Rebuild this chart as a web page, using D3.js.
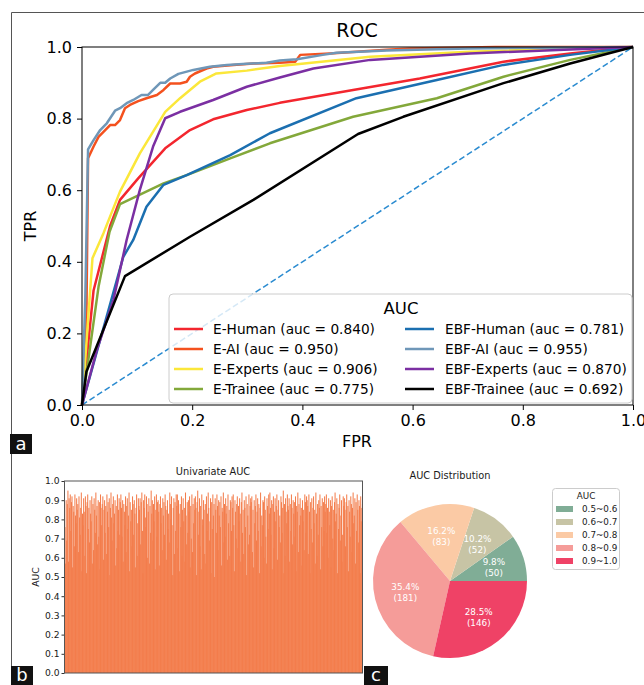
<!DOCTYPE html>
<html>
<head>
<meta charset="utf-8">
<script src="https://cdn.jsdelivr.net/npm/d3@7"></script>
<style>
  body { margin: 0; background: #fff; }
  svg { display: block; font-family: 'DejaVu Sans', sans-serif; }
</style>
</head>
<body>
<svg id="fig" width="644" height="685"></svg>
<script>
// ROC curves, [fpr, tpr]
const eHuman = [[0,0],[0.021,0.32],[0.051,0.50],[0.069,0.573],[0.102,0.633],[0.151,0.717],[0.196,0.768],[0.238,0.798],[0.299,0.824],[0.359,0.844],[0.492,0.880],[0.613,0.912],[0.765,0.959],[0.886,0.982],[1,1]]
const eAI = [[0,0],[0.008,0.25],[0.011,0.689],[0.021,0.722],[0.030,0.749],[0.039,0.763],[0.051,0.782],[0.060,0.782],[0.069,0.796],[0.078,0.829],[0.087,0.838],[0.102,0.849],[0.117,0.857],[0.136,0.866],[0.148,0.880],[0.160,0.898],[0.178,0.898],[0.190,0.903],[0.196,0.917],[0.205,0.926],[0.226,0.940],[0.238,0.945],[0.275,0.950],[0.311,0.954],[0.359,0.956],[0.387,0.959],[0.396,0.978],[0.45,0.982],[0.553,0.992],[0.595,0.996],[0.75,1],[1,1]]
const eExperts = [[0,0],[0.019,0.41],[0.039,0.48],[0.057,0.55],[0.069,0.596],[0.105,0.703],[0.151,0.819],[0.178,0.857],[0.214,0.903],[0.244,0.926],[0.299,0.934],[0.359,0.947],[0.523,0.973],[0.704,0.987],[1,1]]
const eTrainee = [[0,0],[0.03,0.33],[0.05,0.484],[0.069,0.561],[0.148,0.619],[0.190,0.642],[0.269,0.689],[0.341,0.731],[0.492,0.805],[0.644,0.857],[0.765,0.917],[0.886,0.964],[1,1]]
const ebfHuman = [[0,0],[0.075,0.414],[0.093,0.461],[0.117,0.554],[0.148,0.615],[0.190,0.642],[0.269,0.698],[0.341,0.759],[0.498,0.857],[0.644,0.908],[0.765,0.950],[0.886,0.978],[1,1]]
const ebfAI = [[0,0],[0.006,0.3],[0.011,0.714],[0.021,0.740],[0.033,0.768],[0.045,0.787],[0.060,0.822],[0.069,0.829],[0.081,0.843],[0.093,0.852],[0.108,0.866],[0.120,0.866],[0.129,0.880],[0.142,0.900],[0.151,0.900],[0.160,0.912],[0.175,0.925],[0.202,0.936],[0.232,0.945],[0.263,0.950],[0.299,0.953],[0.335,0.956],[0.359,0.962],[0.39,0.966],[0.437,0.978],[0.462,0.984],[0.553,0.99],[0.7,0.996],[1,1]]
const ebfExperts = [[0,0],[0.027,0.154],[0.057,0.293],[0.081,0.461],[0.105,0.601],[0.129,0.722],[0.151,0.801],[0.178,0.819],[0.238,0.852],[0.299,0.889],[0.359,0.915],[0.42,0.94],[0.523,0.964],[0.704,0.982],[1,1]]
const ebfTrainee = [[0,0],[0.008,0.093],[0.078,0.36],[0.196,0.470],[0.311,0.573],[0.501,0.757],[0.583,0.805],[0.765,0.899],[0.886,0.954],[1,1]]

const rocNames = ['E-Human', 'E-AI', 'E-Experts', 'E-Trainee', 'EBF-Human', 'EBF-AI', 'EBF-Experts', 'EBF-Trainee']
const rocAuc = ['0.840', '0.950', '0.906', '0.775', '0.781', '0.955', '0.870', '0.692']
const rocColors = ['#f3262e', '#f4511e', '#fbe73a', '#83a83a', '#1b6fb0', '#6f97b8', '#7b2fa2', '#000000']
const rocCurves = [eHuman, eAI, eExperts, eTrainee, ebfHuman, ebfAI, ebfExperts, ebfTrainee]
const rocTicks = [0, 0.2, 0.4, 0.6, 0.8, 1.0]

// univariate AUC, one bar per feature (512)
const univariateAuc = [
  0.76,0.57,0.90,0.69,0.88,0.95,0.58,0.91,0.86,0.93,0.74,0.89,0.92,0.55,0.87,0.84,0.66,0.93,0.82,0.78,0.91,0.85,0.88,0.63,0.92,0.81,0.72,0.86,0.94,0.53,0.83,0.77,
  0.91,0.84,0.61,0.92,0.87,0.52,0.89,0.93,0.75,0.86,0.68,0.90,0.83,0.79,0.92,0.57,0.88,0.64,0.91,0.85,0.73,0.94,0.82,0.87,0.67,0.90,0.71,0.89,0.54,0.93,0.86,0.77,
  0.88,0.92,0.59,0.85,0.90,0.73,0.87,0.62,0.93,0.84,0.89,0.76,0.91,0.51,0.86,0.94,0.81,0.69,0.88,0.92,0.78,0.83,0.90,0.56,0.87,0.65,0.93,0.74,0.85,0.91,0.72,0.89,
  0.93,0.86,0.71,0.90,0.58,0.88,0.84,0.77,0.92,0.63,0.87,0.91,0.75,0.82,0.94,0.53,0.89,0.79,0.85,0.66,0.92,0.88,0.72,0.90,0.83,0.55,0.86,0.93,0.61,0.78,0.91,0.87,
  0.85,0.91,0.67,0.89,0.94,0.74,0.52,0.90,0.86,0.93,0.81,0.76,0.92,0.88,0.60,0.84,0.91,0.57,0.87,0.73,0.95,0.83,0.90,0.69,0.88,0.79,0.92,0.54,0.85,0.93,0.71,0.89,
  0.90,0.84,0.56,0.88,0.92,0.78,0.86,0.64,0.91,0.82,0.89,0.72,0.93,0.87,0.59,0.85,0.90,0.75,0.83,0.68,0.94,0.88,0.80,0.92,0.77,0.51,0.86,0.91,0.62,0.89,0.74,0.93,
  0.87,0.93,0.65,0.90,0.83,0.53,0.88,0.76,0.92,0.61,0.85,0.91,0.79,0.86,0.58,0.94,0.82,0.67,0.89,0.73,0.90,0.84,0.92,0.55,0.87,0.70,0.93,0.63,0.88,0.78,0.91,0.85,
  0.92,0.86,0.51,0.89,0.95,0.72,0.84,0.91,0.66,0.87,0.54,0.93,0.80,0.77,0.90,0.85,0.62,0.88,0.57,0.92,0.74,0.83,0.94,0.86,0.69,0.79,0.91,0.52,0.89,0.75,0.93,0.82,
  0.88,0.50,0.91,0.85,0.73,0.93,0.87,0.64,0.90,0.82,0.89,0.76,0.92,0.56,0.86,0.84,0.94,0.68,0.88,0.71,0.91,0.83,0.87,0.59,0.93,0.78,0.85,0.61,0.90,0.89,0.74,0.92,
  0.86,0.93,0.77,0.53,0.90,0.84,0.70,0.88,0.92,0.65,0.87,0.79,0.91,0.83,0.58,0.89,0.94,0.73,0.85,0.62,0.90,0.86,0.76,0.92,0.51,0.88,0.82,0.67,0.93,0.72,0.87,0.91,
  0.89,0.92,0.63,0.85,0.55,0.90,0.78,0.87,0.93,0.69,0.84,0.91,0.74,0.88,0.52,0.86,0.94,0.66,0.82,0.77,0.90,0.89,0.60,0.92,0.85,0.71,0.57,0.91,0.87,0.75,0.93,0.83,
  0.94,0.86,0.72,0.90,0.54,0.88,0.92,0.65,0.84,0.91,0.79,0.87,0.93,0.59,0.85,0.90,0.76,0.82,0.68,0.92,0.89,0.73,0.86,0.95,0.52,0.88,0.61,0.91,0.84,0.78,0.93,0.87,
  0.85,0.91,0.58,0.88,0.74,0.93,0.86,0.67,0.90,0.83,0.89,0.71,0.92,0.53,0.87,0.84,0.94,0.63,0.88,0.77,0.91,0.82,0.86,0.56,0.90,0.79,0.85,0.64,0.93,0.89,0.73,0.92,
  0.90,0.87,0.62,0.93,0.84,0.52,0.89,0.75,0.91,0.68,0.86,0.92,0.78,0.85,0.57,0.94,0.83,0.61,0.88,0.72,0.90,0.86,0.93,0.54,0.87,0.76,0.91,0.66,0.89,0.74,0.92,0.84,
  0.88,0.93,0.73,0.86,0.60,0.91,0.84,0.77,0.90,0.55,0.87,0.92,0.70,0.85,0.64,0.89,0.94,0.79,0.83,0.91,0.52,0.88,0.75,0.86,0.93,0.69,0.82,0.90,0.58,0.72,0.92,0.87,
  0.91,0.85,0.66,0.89,0.93,0.76,0.87,0.53,0.90,0.84,0.71,0.92,0.88,0.63,0.86,0.94,0.78,0.82,0.91,0.57,0.89,0.74,0.93,0.85,0.68,0.90,0.87,0.52,0.92,0.79,0.86,0.88
]
const barTicks = [0, 0.1, 0.2, 0.3, 0.4, 0.5, 0.6, 0.7, 0.8, 0.9, 1.0]

// AUC distribution pie
const pieLabels = ['0.5~0.6', '0.6~0.7', '0.7~0.8', '0.8~0.9', '0.9~1.0']
const pieCounts = [50, 52, 83, 181, 146]
const piePct = ['9.8%', '10.2%', '16.2%', '35.4%', '28.5%']
const pieColors = ['#80ad96', '#c7c4a5', '#fbcaa5', '#f59c99', '#ef4266']

const svg = d3.select('#fig')

// panel frame
svg.append('path')
  .attr('d', 'M11.5,685V12.5H644')
  .attr('fill', 'none')
  .attr('stroke', '#555')
  .attr('stroke-width', 1)

// ---------- a: ROC ----------
const x = d3.scaleLinear().domain([0, 1]).range([82, 633])
const y = d3.scaleLinear().domain([0, 1]).range([405, 47])

const roc = svg.append('g')

roc.append('line')
  .attr('x1', x(0)).attr('y1', y(0))
  .attr('x2', x(1)).attr('y2', y(1))
  .attr('stroke', '#2a8bd0')
  .attr('stroke-width', 1.5)
  .attr('stroke-dasharray', '6,3')

const line = d3.line().x((d) => x(d[0])).y((d) => y(d[1]))

roc.selectAll('path.roc')
  .data(rocCurves)
  .enter()
  .append('path')
  .attr('class', 'roc')
  .attr('d', line)
  .attr('fill', 'none')
  .attr('stroke', (d, i) => rocColors[i])
  .attr('stroke-width', 2.5)
  .attr('stroke-linejoin', 'round')

roc.append('g')
  .attr('transform', `translate(0,${y(0)})`)
  .call(d3.axisBottom(x).tickValues(rocTicks).tickFormat(d3.format('.1f')).tickSize(5).tickPadding(5))
roc.append('g')
  .attr('transform', `translate(${x(0)},0)`)
  .call(d3.axisLeft(y).tickValues(rocTicks).tickFormat(d3.format('.1f')).tickSize(5).tickPadding(5))
roc.selectAll('.tick text').attr('font-size', 16).attr('fill', '#000').attr('font-family', 'DejaVu Sans')
roc.selectAll('.domain').remove()

roc.append('rect')
  .attr('x', x(0)).attr('y', y(1))
  .attr('width', x(1) - x(0)).attr('height', y(0) - y(1))
  .attr('fill', 'none').attr('stroke', '#000').attr('stroke-width', 1)

roc.append('text').attr('x', 357).attr('y', 37).attr('text-anchor', 'middle')
  .attr('font-size', 19).text('ROC')
roc.append('text').attr('x', 357).attr('y', 447).attr('text-anchor', 'middle')
  .attr('font-size', 16).text('FPR')
roc.append('text').attr('transform', 'translate(36,226) rotate(-90)').attr('text-anchor', 'middle')
  .attr('font-size', 16).text('TPR')

// legend
const leg = roc.append('g')
leg.append('rect')
  .attr('x', 169).attr('y', 294).attr('width', 463).attr('height', 109)
  .attr('rx', 4)
  .attr('fill', '#fff').attr('fill-opacity', 0.8)
  .attr('stroke', '#ccc')
leg.append('text').attr('x', 401).attr('y', 314).attr('text-anchor', 'middle')
  .attr('font-size', 16.5).text('AUC')

const items = leg.selectAll('g.item')
  .data(rocNames)
  .enter()
  .append('g')
  .attr('class', 'item')
  .attr('transform', (d, i) => `translate(${i < 4 ? 174 : 405},${329 + (i % 4) * 20})`)
items.append('line')
  .attr('x1', 0).attr('x2', 29)
  .attr('stroke', (d, i) => rocColors[i])
  .attr('stroke-width', 2.5)
items.append('text')
  .attr('x', (d, i) => i < 4 ? 39 : 40)
  .attr('y', 5)
  .attr('font-size', 13.7)
  .text((d, i) => `${d} (auc = ${rocAuc[i]})`)

// ---------- b: univariate AUC ----------
const bx = d3.scaleBand().domain(d3.range(univariateAuc.length)).range([64.5, 362.5]).padding(0)
const by = d3.scaleLinear().domain([0, 1]).range([673, 481])

const bars = svg.append('g')
// bars are sub-pixel wide; widen a little so neighbours overlap and no seams show
bars.selectAll('rect.bar')
  .data(univariateAuc)
  .enter()
  .append('rect')
  .attr('class', 'bar')
  .attr('x', (d, i) => bx(i))
  .attr('width', bx.bandwidth() + 0.45)
  .attr('y', (d) => by(d))
  .attr('height', (d) => by(0) - by(d))
  .attr('fill', '#f37d4c')

bars.append('g')
  .attr('transform', 'translate(64.5,0)')
  .call(d3.axisLeft(by).tickValues(barTicks).tickFormat(d3.format('.1f')).tickSize(3).tickPadding(2))
  .call((g) => g.select('.domain').remove())
bars.selectAll('.tick text').attr('font-size', 9.2).attr('fill', '#1a1a1a').attr('font-family', 'DejaVu Sans')
bars.selectAll('.tick line').attr('stroke', '#333')
bars.append('rect')
  .attr('x', 64.5).attr('y', 481)
  .attr('width', 298).attr('height', 192)
  .attr('fill', 'none').attr('stroke', '#555').attr('stroke-width', 1)
bars.append('text').attr('x', 213).attr('y', 475).attr('text-anchor', 'middle')
  .attr('font-size', 9.8).attr('fill', '#1a1a1a').text('Univariate AUC')
bars.append('text').attr('transform', 'translate(39,577) rotate(-90)').attr('text-anchor', 'middle')
  .attr('font-size', 9.2).attr('fill', '#1a1a1a').text('AUC')

// ---------- c: AUC distribution ----------
const pie = d3.pie().sort(null).startAngle(Math.PI / 2).endAngle(Math.PI / 2 - 2 * Math.PI)
const arc = d3.arc().innerRadius(0).outerRadius(77)
const labelArc = d3.arc().innerRadius(46).outerRadius(46)

const pg = svg.append('g').attr('transform', 'translate(450,581)')
const slices = pg.selectAll('g.slice')
  .data(pie(pieCounts))
  .enter()
  .append('g')
  .attr('class', 'slice')
slices.append('path')
  .attr('d', arc)
  .attr('fill', (d, i) => pieColors[i])
const lbl = slices.append('text')
  .attr('transform', (d) => `translate(${labelArc.centroid(d)})`)
  .attr('text-anchor', 'middle')
  .attr('font-size', 8.8)
  .attr('fill', '#fff')
lbl.append('tspan').attr('x', 0).attr('y', -2).text((d, i) => piePct[i])
lbl.append('tspan').attr('x', 0).attr('y', 9).text((d) => `(${d.data})`)

svg.append('text').attr('x', 450).attr('y', 479).attr('text-anchor', 'middle')
  .attr('font-size', 9.8).attr('fill', '#1a1a1a').text('AUC Distribution')

const pleg = svg.append('g')
pleg.append('rect')
  .attr('x', 552.5).attr('y', 488.5).attr('width', 67).attr('height', 81)
  .attr('rx', 3)
  .attr('fill', '#fff').attr('stroke', '#ccc')
pleg.append('text').attr('x', 586).attr('y', 499).attr('text-anchor', 'middle')
  .attr('font-size', 8.8).attr('fill', '#1a1a1a').text('AUC')
const prow = pleg.selectAll('g.row')
  .data(pieLabels)
  .enter()
  .append('g')
  .attr('class', 'row')
  .attr('transform', (d, i) => `translate(556,${509 + i * 13})`)
prow.append('rect')
  .attr('x', 0).attr('y', -3).attr('width', 17).attr('height', 6)
  .attr('fill', (d, i) => pieColors[i])
prow.append('text')
  .attr('x', 26).attr('y', 3.3)
  .attr('font-size', 8.8).attr('fill', '#1a1a1a')
  .text((d) => d)

// panel letters
const letters = [['a', 10, 434, 22, 20], ['b', 11, 666, 22, 19], ['c', 364, 666, 24, 19]]
letters.forEach(([t, lx, ly, w, h]) => {
  svg.append('rect').attr('x', lx).attr('y', ly).attr('width', w).attr('height', h).attr('fill', '#111')
  svg.append('text').attr('x', lx + w / 2).attr('y', ly + h - 4).attr('text-anchor', 'middle')
    .attr('font-size', 18).attr('fill', '#fff').text(t)
})
</script>
</body>
</html>
